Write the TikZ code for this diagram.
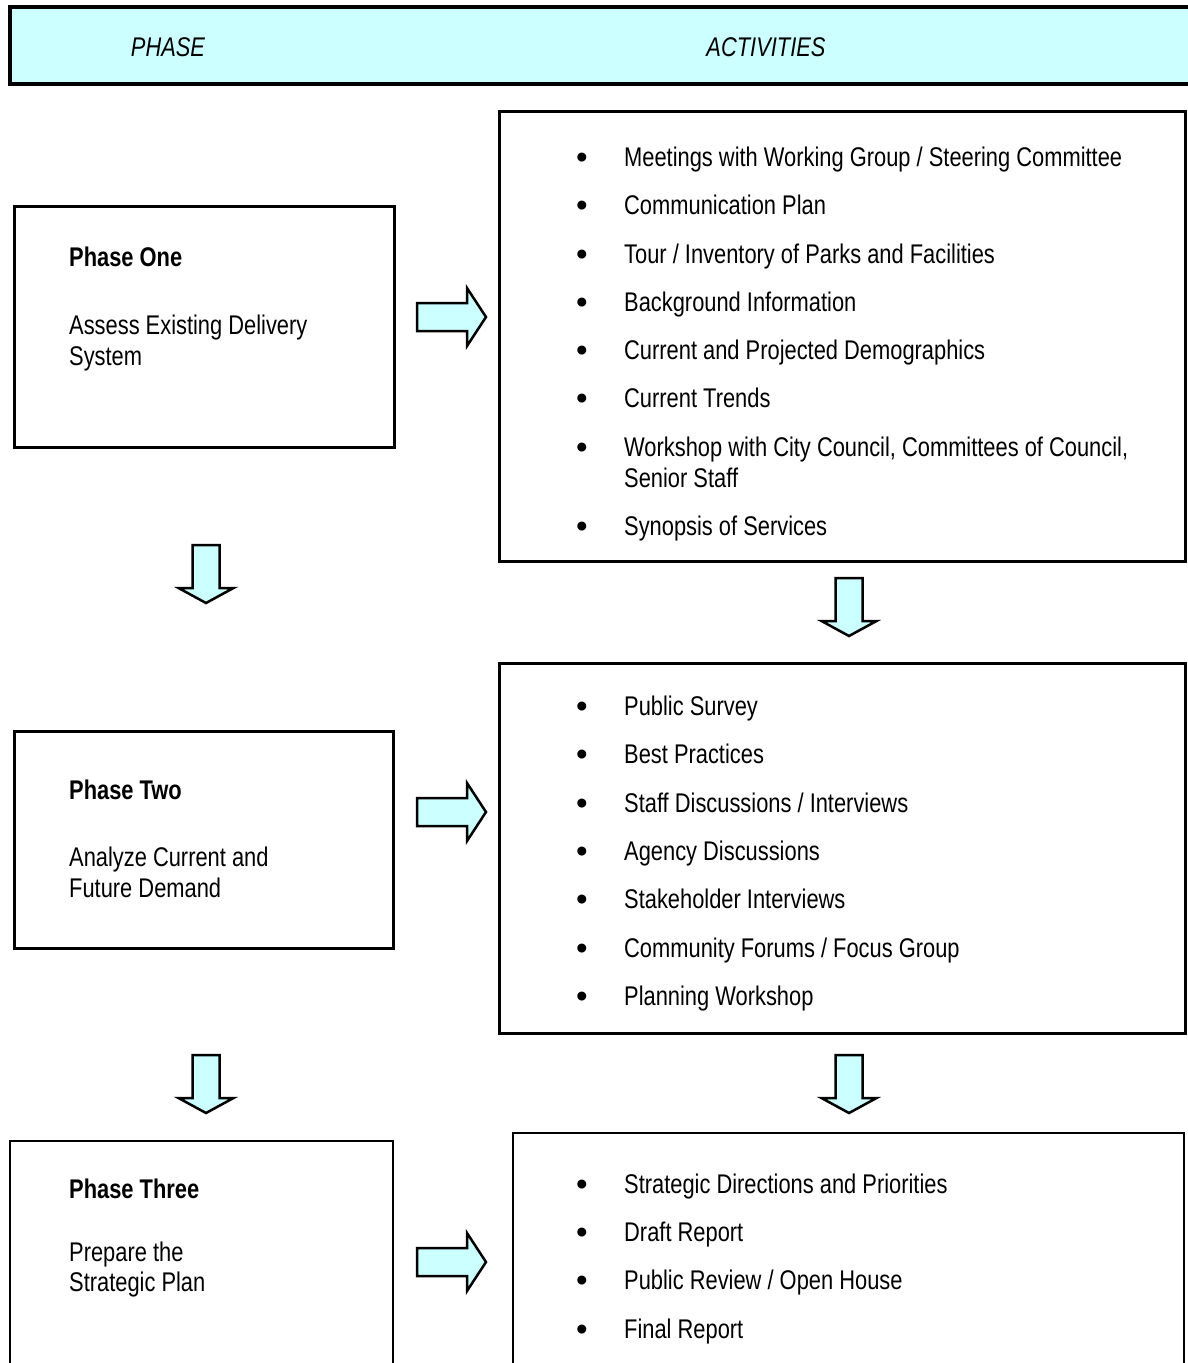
\documentclass[tikz,border=0pt]{standalone}
\usepackage{fontspec}
\setmainfont{Liberation Sans}[FakeStretch=0.81]
\newfontfamily\bulfont{Liberation Sans}
\definecolor{hdrfill}{HTML}{CCFFFF}
\definecolor{arrfill}{HTML}{CCFFFF}
\tikzset{
  frame/.style={draw=black, line width=2.5pt},
  txt/.style={anchor=base west, inner sep=0pt, font=\fontsize{27}{30}\selectfont},
  ttl/.style={anchor=base west, inner sep=0pt, font=\bfseries\fontsize{27}{30}\selectfont},
  hdr/.style={anchor=base, inner sep=0pt, font=\itshape\fontsize{27}{30}\selectfont},
  bul/.style={anchor=base, inner sep=0pt, font=\bulfont\fontsize{33}{36}\selectfont},
  arrowshape/.style={fill=arrfill, draw=black, line width=2.5pt, line join=miter},
  rarr/.pic={\filldraw[arrowshape] (-69,-14) -- (-19,-14) -- (-19,-29) -- (0,0) -- (-19,29) -- (-19,14) -- (-69,14) -- cycle;},
  darr/.pic={\filldraw[arrowshape] (-13.5,0) -- (13.5,0) -- (13.5,43) -- (27.5,43) -- (0,58) -- (-27.5,43) -- (-13.5,43) -- cycle;}
}
\begin{document}
\begin{tikzpicture}[x=1pt,y=-1pt]
\useasboundingbox (0,0) rectangle (1188,1363);
\clip (0,0) rectangle (1188,1363);
% header
\node[frame, line width=3.5pt, fill=hdrfill, anchor=north west, minimum width=1190pt, minimum height=77pt, inner sep=0pt] (header) at (8,5) {};
\node[hdr] (hphase) at (168,56) {PHASE};
\node[hdr] (hact) at (766,56) {ACTIVITIES};
% phase boxes
\node[frame, anchor=north west, minimum width=380pt, minimum height=241pt, inner sep=0pt] (p1) at (13,205) {};
\node[frame, anchor=north west, minimum width=379pt, minimum height=217pt, inner sep=0pt] (p2) at (13,730) {};
\draw[frame] (10,1375) |- (393,1141) -- (393,1375);
\coordinate (p3) at (201,1141);
% activity boxes
\node[frame, anchor=north west, minimum width=686pt, minimum height=450pt, inner sep=0pt] (a1) at (498,110) {};
\node[frame, anchor=north west, minimum width=686pt, minimum height=370pt, inner sep=0pt] (a2) at (498,662) {};
\draw[frame] (513,1375) |- (1184,1133) -- (1184,1375);
\coordinate (a3) at (848,1133);
% phase texts
\node[ttl] (t1) at (69,266) {Phase One};
\node[txt] (t1a) at (69,334) {Assess Existing Delivery};
\node[txt] (t1b) at (69,365) {System};
\node[ttl] (t2) at (69,799) {Phase Two};
\node[txt] (t2a) at (69,866) {Analyze Current and};
\node[txt] (t2b) at (69,897) {Future Demand};
\node[ttl] (t3) at (69,1198) {Phase Three};
\node[txt] (t3a) at (69,1261) {Prepare the};
\node[txt] (t3b) at (69,1291) {Strategic Plan};
% activity list 1
\node[bul] (b11) at (582,168) {•}; \node[txt] (i11) at (624,166) {Meetings with Working Group / Steering Committee};
\node[bul] (b12) at (582,216) {•}; \node[txt] (i12) at (624,214) {Communication Plan};
\node[bul] (b13) at (582,265) {•}; \node[txt] (i13) at (624,263) {Tour / Inventory of Parks and Facilities};
\node[bul] (b14) at (582,313) {•}; \node[txt] (i14) at (624,311) {Background Information};
\node[bul] (b15) at (582,361) {•}; \node[txt] (i15) at (624,359) {Current and Projected Demographics};
\node[bul] (b16) at (582,409) {•}; \node[txt] (i16) at (624,407) {Current Trends};
\node[bul] (b17) at (582,458) {•}; \node[txt] (i17) at (624,456) {Workshop with City Council, Committees of Council,};
\node[txt] (i17b) at (624,487) {Senior Staff};
\node[bul] (b18) at (582,537) {•}; \node[txt] (i18) at (624,535) {Synopsis of Services};
% activity list 2
\node[bul] (b21) at (582,717) {•}; \node[txt] (i21) at (624,715) {Public Survey};
\node[bul] (b22) at (582,765) {•}; \node[txt] (i22) at (624,763) {Best Practices};
\node[bul] (b23) at (582,814) {•}; \node[txt] (i23) at (624,812) {Staff Discussions / Interviews};
\node[bul] (b24) at (582,862) {•}; \node[txt] (i24) at (624,860) {Agency Discussions};
\node[bul] (b25) at (582,910) {•}; \node[txt] (i25) at (624,908) {Stakeholder Interviews};
\node[bul] (b26) at (582,959) {•}; \node[txt] (i26) at (624,957) {Community Forums / Focus Group};
\node[bul] (b27) at (582,1007) {•}; \node[txt] (i27) at (624,1005) {Planning Workshop};
% activity list 3
\node[bul] (b31) at (582,1195) {•}; \node[txt] (i31) at (624,1193) {Strategic Directions and Priorities};
\node[bul] (b32) at (582,1243) {•}; \node[txt] (i32) at (624,1241) {Draft Report};
\node[bul] (b33) at (582,1291) {•}; \node[txt] (i33) at (624,1289) {Public Review / Open House};
\node[bul] (b34) at (582,1340) {•}; \node[txt] (i34) at (624,1338) {Final Report};
% block arrows
\pic at (486,317) {rarr};
\pic at (486,812) {rarr};
\pic at (486,1262) {rarr};
\pic at (206,545) {darr};
\pic at (206,1055) {darr};
\pic at (849,578) {darr};
\pic at (849,1055) {darr};
\end{tikzpicture}
\end{document}
